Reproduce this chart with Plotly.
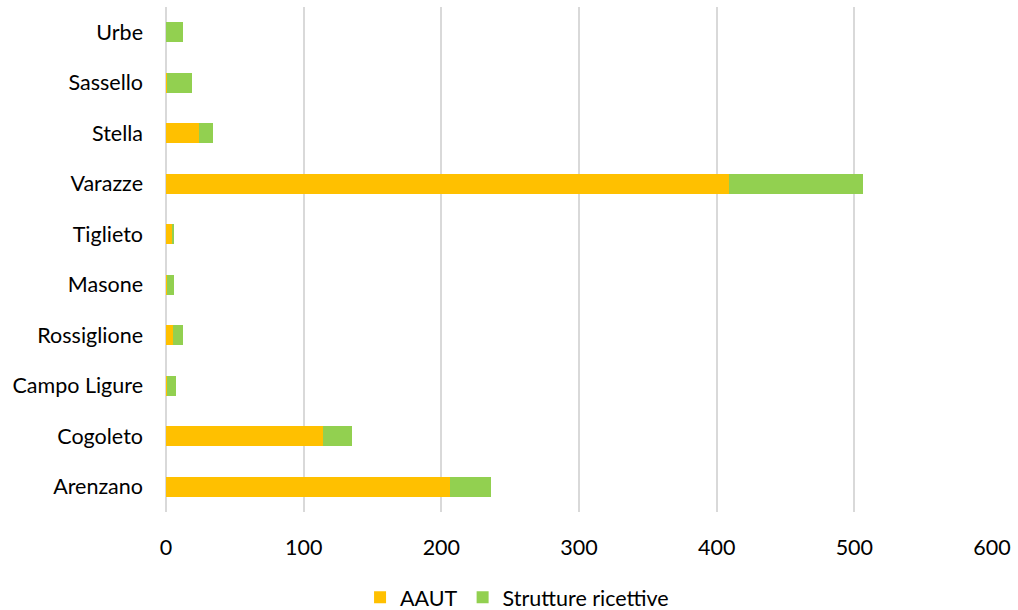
import plotly.graph_objects as go

comuni = ["Arenzano", "Cogoleto", "Campo Ligure", "Rossiglione", "Masone",
          "Tiglieto", "Varazze", "Stella", "Sassello", "Urbe"]
aaut = [206, 114, 1, 5, 1, 4, 409, 24, 1, 0]
strutture = [30, 21, 6, 7, 5, 2, 97, 10, 18, 12]
x_ticks = [0, 100, 200, 300, 400, 500, 600]

FONT = "Lato"
FS = 21.5

fig = go.Figure()
fig.add_trace(go.Bar(y=comuni, x=aaut, orientation="h", name="AAUT",
                     marker=dict(color="#FFC000", line=dict(width=0))))
fig.add_trace(go.Bar(y=comuni, x=strutture, orientation="h", name="Strutture ricettive",
                     marker=dict(color="#92D050", line=dict(width=0))))

fig.update_layout(
    barmode="stack",
    bargap=0.6,
    width=1018, height=610,
    margin=dict(l=166, r=20, t=7, b=98),
    plot_bgcolor="white", paper_bgcolor="white",
    font=dict(family=FONT, size=FS, color="#000000"),
    xaxis=dict(range=[0, 600], tickvals=x_ticks, showgrid=True,
               gridcolor="#d9d9d9", gridwidth=2, zeroline=True,
               zerolinecolor="#d9d9d9", zerolinewidth=2,
               ticklabelstandoff=20, showline=False,
               tickfont=dict(size=FS)),
    yaxis=dict(showgrid=False, showline=False, ticklabelstandoff=22,
               tickfont=dict(size=FS)),
    legend=dict(orientation="h", x=0.425, xanchor="center",
                yref="container", y=0.021, yanchor="middle",
                font=dict(size=FS), traceorder="normal",
                itemwidth=30),
    showlegend=True,
)

fig.write_html("out.html")
